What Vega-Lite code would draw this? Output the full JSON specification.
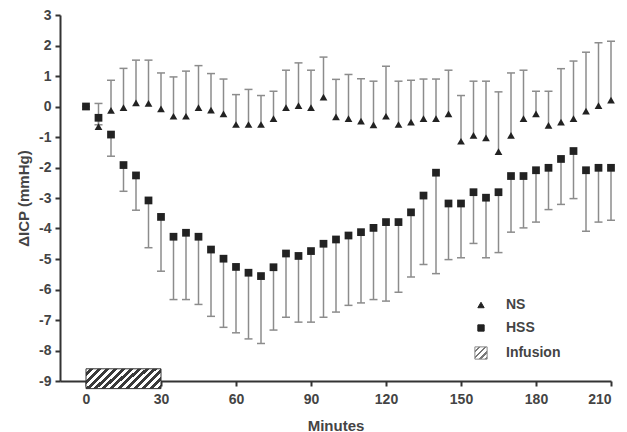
{
  "$schema": "https://vega.github.io/schema/vega-lite/v6.json",
  "width": 551,
  "height": 366,
  "autosize": {"type": "none"},
  "padding": {"left": 60, "top": 15, "right": 16, "bottom": 51},
  "config": {
    "view": {"stroke": null},
    "font": "Liberation Sans",
    "axis": {
      "grid": false,
      "domainColor": "#333",
      "domainWidth": 2,
      "tickColor": "#333",
      "tickWidth": 2,
      "tickSize": 5,
      "labelFont": "Liberation Sans",
      "labelFontSize": 14,
      "labelFontWeight": "bold",
      "labelColor": "#444",
      "labelOverlap": false,
      "titleFont": "Liberation Sans",
      "titleFontSize": 15,
      "titleFontWeight": "bold",
      "titleColor": "#444"
    },
    "axisX": {"labelPadding": 6, "titlePadding": 12},
    "axisY": {"labelPadding": 4, "titlePadding": 7}
  },
  "datasets": {
    "pts": [
      {"t": 0, "g": "NS", "m": 0, "e": 0},
      {"t": 5, "g": "NS", "m": -0.66, "e": 0.1},
      {"t": 10, "g": "NS", "m": -0.13, "e": 0.86},
      {"t": 15, "g": "NS", "m": -0.04, "e": 1.25},
      {"t": 20, "g": "NS", "m": 0.12, "e": 1.52},
      {"t": 25, "g": "NS", "m": 0.1, "e": 1.52},
      {"t": 30, "g": "NS", "m": -0.08, "e": 1.1},
      {"t": 35, "g": "NS", "m": -0.32, "e": 0.97},
      {"t": 40, "g": "NS", "m": -0.32, "e": 1.16},
      {"t": 45, "g": "NS", "m": -0.04, "e": 1.34},
      {"t": 50, "g": "NS", "m": -0.12, "e": 1.08},
      {"t": 55, "g": "NS", "m": -0.24, "e": 0.9},
      {"t": 60, "g": "NS", "m": -0.59, "e": 0.39},
      {"t": 65, "g": "NS", "m": -0.59, "e": 0.56},
      {"t": 70, "g": "NS", "m": -0.59, "e": 0.36},
      {"t": 75, "g": "NS", "m": -0.4, "e": 0.5},
      {"t": 80, "g": "NS", "m": -0.04, "e": 1.19},
      {"t": 85, "g": "NS", "m": 0.03, "e": 1.43},
      {"t": 90, "g": "NS", "m": -0.04, "e": 1.19},
      {"t": 95, "g": "NS", "m": 0.31, "e": 1.62},
      {"t": 100, "g": "NS", "m": -0.34, "e": 0.89},
      {"t": 105, "g": "NS", "m": -0.4, "e": 1.05},
      {"t": 110, "g": "NS", "m": -0.48, "e": 0.91},
      {"t": 115, "g": "NS", "m": -0.6, "e": 0.83},
      {"t": 120, "g": "NS", "m": -0.32, "e": 1.32},
      {"t": 125, "g": "NS", "m": -0.59, "e": 0.83},
      {"t": 130, "g": "NS", "m": -0.51, "e": 0.86},
      {"t": 135, "g": "NS", "m": -0.4, "e": 0.9},
      {"t": 140, "g": "NS", "m": -0.4, "e": 0.9},
      {"t": 145, "g": "NS", "m": -0.24, "e": 1.19},
      {"t": 150, "g": "NS", "m": -1.14, "e": 0.36},
      {"t": 155, "g": "NS", "m": -0.95, "e": 0.83},
      {"t": 160, "g": "NS", "m": -1.03, "e": 0.83},
      {"t": 165, "g": "NS", "m": -1.48, "e": 0.48},
      {"t": 170, "g": "NS", "m": -0.95, "e": 1.1},
      {"t": 175, "g": "NS", "m": -0.4, "e": 1.19},
      {"t": 180, "g": "NS", "m": -0.24, "e": 0.5},
      {"t": 185, "g": "NS", "m": -0.62, "e": 0.5},
      {"t": 190, "g": "NS", "m": -0.51, "e": 1.24},
      {"t": 195, "g": "NS", "m": -0.4, "e": 1.49},
      {"t": 200, "g": "NS", "m": -0.15, "e": 1.78},
      {"t": 205, "g": "NS", "m": 0.03, "e": 2.09},
      {"t": 210, "g": "NS", "m": 0.21, "e": 2.14},
      {"t": 0, "g": "HSS", "m": 0, "e": 0},
      {"t": 5, "g": "HSS", "m": -0.37, "e": -0.6},
      {"t": 10, "g": "HSS", "m": -0.92, "e": -1.63},
      {"t": 15, "g": "HSS", "m": -1.92, "e": -2.78},
      {"t": 20, "g": "HSS", "m": -2.26, "e": -3.4},
      {"t": 25, "g": "HSS", "m": -3.08, "e": -4.63},
      {"t": 30, "g": "HSS", "m": -3.62, "e": -5.4},
      {"t": 35, "g": "HSS", "m": -4.27, "e": -6.33},
      {"t": 40, "g": "HSS", "m": -4.14, "e": -6.33},
      {"t": 45, "g": "HSS", "m": -4.27, "e": -6.49},
      {"t": 50, "g": "HSS", "m": -4.69, "e": -6.88},
      {"t": 55, "g": "HSS", "m": -4.99, "e": -7.24},
      {"t": 60, "g": "HSS", "m": -5.26, "e": -7.42},
      {"t": 65, "g": "HSS", "m": -5.45, "e": -7.62},
      {"t": 70, "g": "HSS", "m": -5.56, "e": -7.77},
      {"t": 75, "g": "HSS", "m": -5.27, "e": -7.33},
      {"t": 80, "g": "HSS", "m": -4.82, "e": -6.91},
      {"t": 85, "g": "HSS", "m": -4.9, "e": -7.07},
      {"t": 90, "g": "HSS", "m": -4.74, "e": -7.07},
      {"t": 95, "g": "HSS", "m": -4.5, "e": -6.91},
      {"t": 100, "g": "HSS", "m": -4.36, "e": -6.74},
      {"t": 105, "g": "HSS", "m": -4.23, "e": -6.52},
      {"t": 110, "g": "HSS", "m": -4.12, "e": -6.44},
      {"t": 115, "g": "HSS", "m": -3.98, "e": -6.33},
      {"t": 120, "g": "HSS", "m": -3.79, "e": -6.38},
      {"t": 125, "g": "HSS", "m": -3.79, "e": -6.09},
      {"t": 130, "g": "HSS", "m": -3.47, "e": -5.59},
      {"t": 135, "g": "HSS", "m": -2.92, "e": -5.18},
      {"t": 140, "g": "HSS", "m": -2.17, "e": -5.48},
      {"t": 145, "g": "HSS", "m": -3.18, "e": -5.02},
      {"t": 150, "g": "HSS", "m": -3.18, "e": -4.96},
      {"t": 155, "g": "HSS", "m": -2.81, "e": -4.49},
      {"t": 160, "g": "HSS", "m": -2.99, "e": -4.96},
      {"t": 165, "g": "HSS", "m": -2.81, "e": -4.79},
      {"t": 170, "g": "HSS", "m": -2.28, "e": -4.12},
      {"t": 175, "g": "HSS", "m": -2.28, "e": -3.98},
      {"t": 180, "g": "HSS", "m": -2.09, "e": -3.79},
      {"t": 185, "g": "HSS", "m": -2.01, "e": -3.38},
      {"t": 190, "g": "HSS", "m": -1.72, "e": -3.21},
      {"t": 195, "g": "HSS", "m": -1.46, "e": -3.02},
      {"t": 200, "g": "HSS", "m": -2.09, "e": -4.09},
      {"t": 205, "g": "HSS", "m": -2.01, "e": -3.79},
      {"t": 210, "g": "HSS", "m": -2.01, "e": -3.73}
    ],
    "inf": [{"start": 0, "end": 30, "lo": -9.25, "hi": -8.6}]
  },
  "layer": [
    {
      "mark": {"type": "rule", "color": "#c4c4c4", "strokeWidth": 1.5},
      "encoding": {
        "y": {
          "datum": 0, "type": "quantitative", "scale": {"domain": [-9, 3], "nice": false, "zero": false}, "title": "ΔICP (mmHg)",
          "axis": {
            "values": [-9, -8, -7, -6, -5, -4, -3, -2, -1, 0, 1, 2, 3],
            "tickCount": 13,
            "labelOverlap": false,
            "labelExpr": "datum.value < 0 ? '-' + abs(datum.value) : '' + datum.value"
          }
        }
      }
    },
    {
      "data": {"name": "pts"},
      "mark": {"type": "rule", "color": "#8c8c8c", "strokeWidth": 1.5},
      "encoding": {
        "x": {
          "field": "t", "type": "quantitative", "scale": {"domain": [-10.4, 210], "nice": false, "zero": false}, "title": "Minutes",
          "axis": {"values": [0, 30, 60, 90, 120, 150, 180, 210], "labelOverlap": false}
        },
        "y": {
          "field": "m", "type": "quantitative", "scale": {"domain": [-9, 3], "nice": false, "zero": false}, "title": "ΔICP (mmHg)",
          "axis": {
            "values": [-9, -8, -7, -6, -5, -4, -3, -2, -1, 0, 1, 2, 3],
            "tickCount": 13,
            "labelOverlap": false,
            "labelExpr": "datum.value < 0 ? '-' + abs(datum.value) : '' + datum.value"
          }
        },
        "y2": {"field": "e"}
      }
    },
    {
      "data": {"name": "pts"},
      "mark": {"type": "tick", "orient": "horizontal", "size": 8, "thickness": 1.5, "color": "#8c8c8c", "opacity": 1},
      "encoding": {
        "x": {
          "field": "t", "type": "quantitative", "title": "Minutes",
          "axis": {"values": [0, 30, 60, 90, 120, 150, 180, 210], "labelOverlap": false}
        },
        "y": {
          "field": "e", "type": "quantitative", "title": "ΔICP (mmHg)",
          "axis": {
            "values": [-9, -8, -7, -6, -5, -4, -3, -2, -1, 0, 1, 2, 3],
            "tickCount": 13,
            "labelOverlap": false,
            "labelExpr": "datum.value < 0 ? '-' + abs(datum.value) : '' + datum.value"
          }
        }
      }
    },
    {
      "data": {"name": "inf"},
      "mark": {
        "type": "rect",
        "stroke": "#333",
        "strokeWidth": 1,
        "fill": {
          "gradient": "linear", "x1": 0, "y1": 0, "x2": 1.18, "y2": 0.32,
          "stops": [
            {"offset": 0, "color": "#fff"}, {"offset": 0.04, "color": "#fff"}, {"offset": 0.04, "color": "#3a3a3a"}, {"offset": 0.0833, "color": "#3a3a3a"},
            {"offset": 0.0833, "color": "#fff"}, {"offset": 0.1233, "color": "#fff"}, {"offset": 0.1233, "color": "#3a3a3a"}, {"offset": 0.1667, "color": "#3a3a3a"},
            {"offset": 0.1667, "color": "#fff"}, {"offset": 0.2067, "color": "#fff"}, {"offset": 0.2067, "color": "#3a3a3a"}, {"offset": 0.25, "color": "#3a3a3a"},
            {"offset": 0.25, "color": "#fff"}, {"offset": 0.29, "color": "#fff"}, {"offset": 0.29, "color": "#3a3a3a"}, {"offset": 0.3333, "color": "#3a3a3a"},
            {"offset": 0.3333, "color": "#fff"}, {"offset": 0.3733, "color": "#fff"}, {"offset": 0.3733, "color": "#3a3a3a"}, {"offset": 0.4167, "color": "#3a3a3a"},
            {"offset": 0.4167, "color": "#fff"}, {"offset": 0.4567, "color": "#fff"}, {"offset": 0.4567, "color": "#3a3a3a"}, {"offset": 0.5, "color": "#3a3a3a"},
            {"offset": 0.5, "color": "#fff"}, {"offset": 0.54, "color": "#fff"}, {"offset": 0.54, "color": "#3a3a3a"}, {"offset": 0.5833, "color": "#3a3a3a"},
            {"offset": 0.5833, "color": "#fff"}, {"offset": 0.6233, "color": "#fff"}, {"offset": 0.6233, "color": "#3a3a3a"}, {"offset": 0.6667, "color": "#3a3a3a"},
            {"offset": 0.6667, "color": "#fff"}, {"offset": 0.7067, "color": "#fff"}, {"offset": 0.7067, "color": "#3a3a3a"}, {"offset": 0.75, "color": "#3a3a3a"},
            {"offset": 0.75, "color": "#fff"}, {"offset": 0.79, "color": "#fff"}, {"offset": 0.79, "color": "#3a3a3a"}, {"offset": 0.8333, "color": "#3a3a3a"},
            {"offset": 0.8333, "color": "#fff"}, {"offset": 0.8733, "color": "#fff"}, {"offset": 0.8733, "color": "#3a3a3a"}, {"offset": 0.9167, "color": "#3a3a3a"},
            {"offset": 0.9167, "color": "#fff"}, {"offset": 0.9567, "color": "#fff"}, {"offset": 0.9567, "color": "#3a3a3a"}, {"offset": 1, "color": "#3a3a3a"}
          ]
        }
      },
      "encoding": {
        "x": {
          "field": "start", "type": "quantitative", "title": "Minutes",
          "axis": {"values": [0, 30, 60, 90, 120, 150, 180, 210], "labelOverlap": false}
        },
        "x2": {"field": "end"},
        "y": {
          "field": "lo", "type": "quantitative", "title": "ΔICP (mmHg)",
          "axis": {
            "values": [-9, -8, -7, -6, -5, -4, -3, -2, -1, 0, 1, 2, 3],
            "tickCount": 13,
            "labelOverlap": false,
            "labelExpr": "datum.value < 0 ? '-' + abs(datum.value) : '' + datum.value"
          }
        },
        "y2": {"field": "hi"}
      }
    },
    {
      "data": {"name": "pts"},
      "mark": {"type": "point", "filled": true, "color": "#222", "opacity": 1, "size": 60},
      "encoding": {
        "x": {
          "field": "t", "type": "quantitative", "title": "Minutes",
          "axis": {"values": [0, 30, 60, 90, 120, 150, 180, 210], "labelOverlap": false}
        },
        "y": {
          "field": "m", "type": "quantitative", "title": "ΔICP (mmHg)",
          "axis": {
            "values": [-9, -8, -7, -6, -5, -4, -3, -2, -1, 0, 1, 2, 3],
            "tickCount": 13,
            "labelOverlap": false,
            "labelExpr": "datum.value < 0 ? '-' + abs(datum.value) : '' + datum.value"
          }
        },
        "shape": {
          "field": "g", "type": "nominal",
          "scale": {"domain": ["NS", "HSS", "Infusion"], "range": ["triangle-up", "square", "square"]},
          "legend": {
            "title": null,
            "orient": "none",
            "legendX": 414,
            "legendY": 283,
            "labelFont": "Liberation Sans",
            "labelFontSize": 14,
            "labelFontWeight": "bold",
            "labelColor": "#444",
            "labelOffset": 18,
            "rowPadding": 9,
            "symbolSize": 40,
            "encoding": {
              "symbols": {
                "fill": {"value": {"expr": "datum.value === 'Infusion' ? {gradient: 'linear', x1: 0, y1: 0, x2: 1, y2: 1, stops: [{offset: 0, color: '#fff'}, {offset: 0.15, color: '#fff'}, {offset: 0.15, color: '#777'}, {offset: 0.25, color: '#777'}, {offset: 0.25, color: '#fff'}, {offset: 0.4, color: '#fff'}, {offset: 0.4, color: '#777'}, {offset: 0.5, color: '#777'}, {offset: 0.5, color: '#fff'}, {offset: 0.65, color: '#fff'}, {offset: 0.65, color: '#777'}, {offset: 0.75, color: '#777'}, {offset: 0.75, color: '#fff'}, {offset: 0.9, color: '#fff'}, {offset: 0.9, color: '#777'}, {offset: 1, color: '#777'}]} : '#222'"}},
                "stroke": {"value": {"expr": "datum.value === 'Infusion' ? '#888' : '#222'"}},
                "strokeWidth": {"value": 1},
                "size": {"value": {"expr": "datum.value === 'Infusion' ? 150 : 40"}},
                "opacity": {"value": 1}
              }
            }
          }
        }
      }
    }
  ]
}
